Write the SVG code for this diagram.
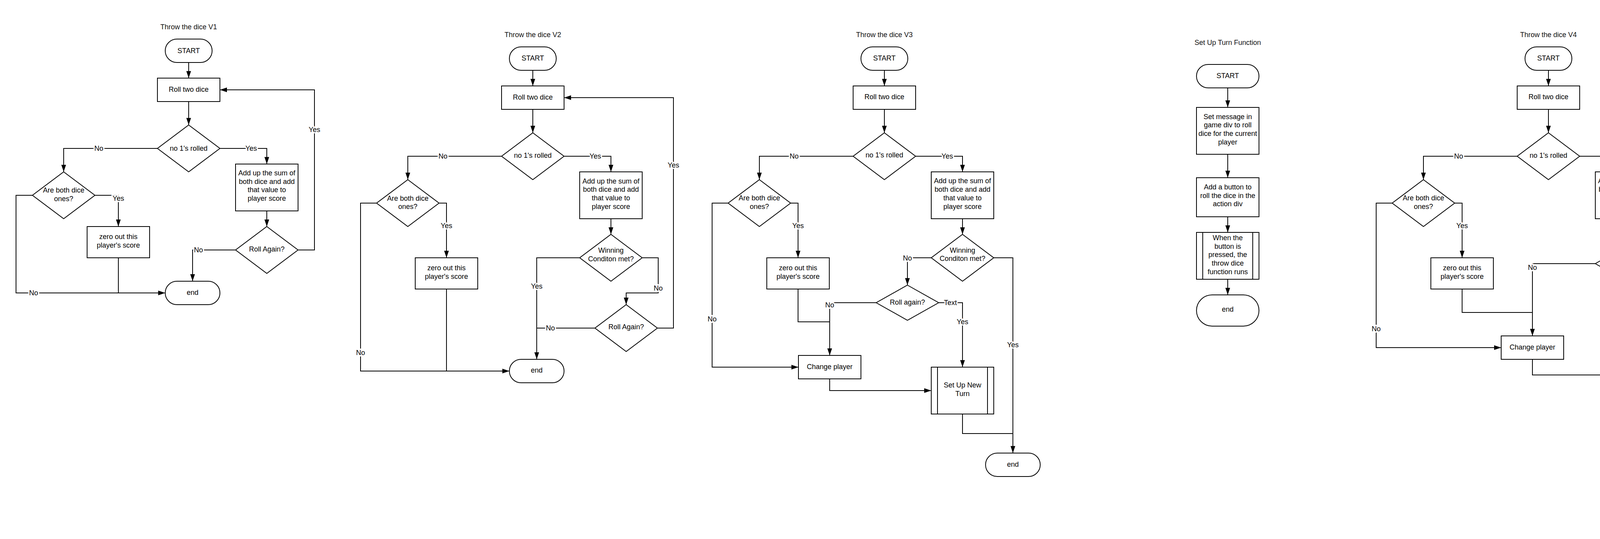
<svg xmlns="http://www.w3.org/2000/svg" width="5703" height="1380" viewBox="0 0 5703 1380">
<defs>
<marker id="ah" markerUnits="userSpaceOnUse" markerWidth="18" markerHeight="12" refX="18" refY="6" orient="auto"><path d="M0,0 L18,6 L0,12 z" fill="#000"/></marker>
<style>
.s{fill:#fff;stroke:#000;stroke-width:2}
.i{fill:none;stroke:#000;stroke-width:2}
.c{fill:none;stroke:#000;stroke-width:2}
.a{marker-end:url(#ah)}
text{font-family:"Liberation Sans",Arial,sans-serif;font-size:18px;fill:#000;text-anchor:middle}
.lbl{paint-order:stroke;stroke:#fff;stroke-width:7px;stroke-linejoin:round}
.ttl{fill:#111}
</style>
</defs>
<rect width="5703" height="1380" fill="#fff"/>

<g id="titles">
<text class="ttl" x="483" y="75">Throw the dice V1</text>
<text class="ttl" x="1364" y="95">Throw the dice V2</text>
<text class="ttl" x="2264" y="95">Throw the dice V3</text>
<text class="ttl" x="3143" y="115">Set Up Turn Function</text>
<text class="ttl" x="3964" y="95">Throw the dice V4</text>
<text class="ttl" x="4693" y="95">Winning Condition Function</text>
<text class="ttl" x="5543" y="95">On page load</text>
</g>

<g id="connectors">
<!-- chart 1 -->
<path class="c a" d="M483,160 V200"/>
<path class="c a" d="M483,260 V320"/>
<path class="c a" d="M403,380 H163 V440"/>
<path class="c a" d="M563,380 H683 V420"/>
<path class="c a" d="M243,500 H303 V580"/>
<path class="c a" d="M83,500 H41 V750 H423"/>
<path class="c" d="M303,660 V750"/>
<path class="c a" d="M683,540 V580"/>
<path class="c a" d="M603,640 H493 V720"/>
<path class="c a" d="M763,640 H805 V230 H563"/>
<text class="lbl" x="253" y="386">No</text>
<text class="lbl" x="643" y="386">Yes</text>
<text class="lbl" x="303" y="514">Yes</text>
<text class="lbl" x="86" y="756">No</text>
<text class="lbl" x="508" y="646">No</text>
<text class="lbl" x="805" y="338">Yes</text>
<!-- chart 2 -->
<path class="c a" d="M1364,180 V220"/>
<path class="c a" d="M1364,280 V340"/>
<path class="c a" d="M1284,400 H1044 V460"/>
<path class="c a" d="M1444,400 H1564 V440"/>
<path class="c a" d="M1124,520 H1143 V660"/>
<path class="c a" d="M964,520 H923 V950 H1304"/>
<path class="c" d="M1143,740 V950"/>
<path class="c a" d="M1564,560 V600"/>
<path class="c a" d="M1484,660 H1374 V920"/>
<path class="c a" d="M1644,660 H1685 V750 H1603 V780"/>
<path class="c" d="M1523,840 H1374"/>
<path class="c a" d="M1683,840 H1724 V250 H1444"/>
<text class="lbl" x="1134" y="406">No</text>
<text class="lbl" x="1524" y="406">Yes</text>
<text class="lbl" x="1143" y="584">Yes</text>
<text class="lbl" x="923" y="909">No</text>
<text class="lbl" x="1374" y="739">Yes</text>
<text class="lbl" x="1685" y="744">No</text>
<text class="lbl" x="1409" y="846">No</text>
<text class="lbl" x="1724" y="429">Yes</text>
<!-- chart 3 -->
<path class="c a" d="M2264,180 V220"/>
<path class="c a" d="M2264,280 V340"/>
<path class="c a" d="M2184,400 H1944 V460"/>
<path class="c a" d="M2344,400 H2464 V440"/>
<path class="c a" d="M2024,520 H2043 V660"/>
<path class="c a" d="M1864,520 H1823 V940 H2044"/>
<path class="c" d="M2043,740 V824 H2124"/>
<path class="c a" d="M2464,560 V600"/>
<path class="c a" d="M2384,660 H2323 V730"/>
<path class="c a" d="M2544,660 H2593 V1160"/>
<path class="c a" d="M2243,775 H2124 V910"/>
<path class="c a" d="M2403,775 H2464 V940"/>
<path class="c a" d="M2124,970 V1000 H2384"/>
<path class="c" d="M2464,1060 V1110 H2593"/>
<text class="lbl" x="2033" y="406">No</text>
<text class="lbl" x="2425" y="406">Yes</text>
<text class="lbl" x="2043" y="584">Yes</text>
<text class="lbl" x="1823" y="823">No</text>
<text class="lbl" x="2124" y="787">No</text>
<text class="lbl" x="2323" y="667">No</text>
<text class="lbl" x="2593" y="889">Yes</text>
<text class="lbl" x="2433" y="781">Text</text>
<text class="lbl" x="2464" y="830">Yes</text>
<!-- chart 4 -->
<path class="c a" d="M3143,225 V275"/>
<path class="c a" d="M3143,395 V455"/>
<path class="c a" d="M3143,555 V595"/>
<path class="c a" d="M3143,715 V755"/>
<!-- chart 5 -->
<path class="c a" d="M3964,180 V220"/>
<path class="c a" d="M3964,280 V340"/>
<path class="c a" d="M3884,400 H3644 V460"/>
<path class="c a" d="M4044,400 H4164 V440"/>
<path class="c a" d="M3724,520 H3743 V660"/>
<path class="c a" d="M3564,520 H3523 V890 H3843"/>
<path class="c" d="M3743,740 V800 H3923"/>
<path class="c a" d="M4164,560 V630"/>
<path class="c a" d="M4084,675 H3923 V860"/>
<path class="c a" d="M4244,675 H4264 V900"/>
<path class="c a" d="M3923,920 V960 H4184"/>
<path class="c a" d="M4264,1020 V1090"/>
<path class="c a" d="M4264,1210 V1280"/>
<text class="lbl" x="3734" y="406">No</text>
<text class="lbl" x="4125" y="406">Yes</text>
<text class="lbl" x="3743" y="584">Yes</text>
<text class="lbl" x="3523" y="848">No</text>
<text class="lbl" x="3923" y="691">No</text>
<text class="lbl" x="4264" y="781">Yes</text>
<!-- chart 6 -->
<path class="c a" d="M4693,180 V240"/>
<path class="c a" d="M4588,320 H4503 V420"/>
<path class="c a" d="M4798,320 H4963 V400"/>
<path class="c a" d="M4963,520 V580"/>
<path class="c a" d="M4963,700 V760"/>
<path class="c a" d="M4963,880 V990 H4583"/>
<path class="c a" d="M4503,540 V960"/>
<text class="lbl" x="4503" y="331">No</text>
<text class="lbl" x="4920" y="326">Yes</text>
<!-- chart 7 -->
<path class="c a" d="M5553,180 V240"/>
<path class="c a" d="M5553,360 V430"/>
<path class="c a" d="M5553,530 V600"/>
<path class="c a" d="M5558,740 V800"/>
<path class="c a" d="M5558,920 V980"/>
<path class="c a" d="M5558,1100 V1160"/>
</g>

<!-- chart 1 nodes -->
<g id="c1-start"><rect class="s" x="423" y="100" width="120" height="60" rx="30"/><text x="483" y="136">START</text></g>
<g id="c1-roll"><rect class="s" x="403" y="200" width="160" height="60"/><text x="483" y="235">Roll two dice</text></g>
<g id="c1-no1"><polygon class="s" points="483,320 563,380 483,440 403,380"/><text x="483" y="386">no 1's rolled</text></g>
<g id="c1-both"><polygon class="s" points="163,440 243,500 163,560 83,500"/><text x="163" y="493">Are both dice</text><text x="163" y="515">ones?</text></g>
<g id="c1-zero"><rect class="s" x="223" y="580" width="160" height="80"/><text x="303" y="612">zero out this</text><text x="303" y="634">player's score</text></g>
<g id="c1-add"><rect class="s" x="603" y="420" width="160" height="120"/><text x="683" y="449">Add up the sum of</text><text x="683" y="471">both dice and add</text><text x="683" y="492">that value to</text><text x="683" y="514">player score</text></g>
<g id="c1-again"><polygon class="s" points="683,580 763,640 683,700 603,640"/><text x="683" y="644">Roll Again?</text></g>
<g id="c1-end"><rect class="s" x="423" y="720" width="140" height="60" rx="30"/><text x="493" y="755">end</text></g>

<!-- chart 2 nodes -->
<g id="c2-start"><rect class="s" x="1304" y="120" width="120" height="60" rx="30"/><text x="1364" y="155">START</text></g>
<g id="c2-roll"><rect class="s" x="1284" y="220" width="160" height="60"/><text x="1364" y="255">Roll two dice</text></g>
<g id="c2-no1"><polygon class="s" points="1364,340 1444,400 1364,460 1284,400"/><text x="1364" y="404">no 1's rolled</text></g>
<g id="c2-both"><polygon class="s" points="1044,460 1124,520 1044,580 964,520"/><text x="1044" y="514">Are both dice</text><text x="1044" y="535">ones?</text></g>
<g id="c2-zero"><rect class="s" x="1063" y="660" width="160" height="80"/><text x="1143" y="692">zero out this</text><text x="1143" y="714">player's score</text></g>
<g id="c2-add"><rect class="s" x="1484" y="440" width="160" height="120"/><text x="1564" y="470">Add up the sum of</text><text x="1564" y="491">both dice and add</text><text x="1564" y="513">that value to</text><text x="1564" y="535">player score</text></g>
<g id="c2-win"><polygon class="s" points="1564,600 1644,660 1564,720 1484,660"/><text x="1564" y="647">Winning</text><text x="1564" y="669">Conditon met?</text></g>
<g id="c2-again"><polygon class="s" points="1603,780 1683,840 1603,900 1523,840"/><text x="1603" y="843">Roll Again?</text></g>
<g id="c2-end"><rect class="s" x="1304" y="920" width="140" height="60" rx="30"/><text x="1374" y="954">end</text></g>

<!-- chart 3 nodes -->
<g id="c3-start"><rect class="s" x="2204" y="120" width="120" height="60" rx="30"/><text x="2264" y="155">START</text></g>
<g id="c3-roll"><rect class="s" x="2184" y="220" width="160" height="60"/><text x="2264" y="254">Roll two dice</text></g>
<g id="c3-no1"><polygon class="s" points="2264,340 2344,400 2264,460 2184,400"/><text x="2264" y="403">no 1's rolled</text></g>
<g id="c3-both"><polygon class="s" points="1944,460 2024,520 1944,580 1864,520"/><text x="1944" y="513">Are both dice</text><text x="1944" y="535">ones?</text></g>
<g id="c3-zero"><rect class="s" x="1963" y="660" width="160" height="80"/><text x="2043" y="692">zero out this</text><text x="2043" y="714">player's score</text></g>
<g id="c3-add"><rect class="s" x="2384" y="440" width="160" height="120"/><text x="2464" y="469">Add up the sum of</text><text x="2464" y="491">both dice and add</text><text x="2464" y="513">that value to</text><text x="2464" y="535">player score</text></g>
<g id="c3-win"><polygon class="s" points="2464,600 2544,660 2464,720 2384,660"/><text x="2464" y="647">Winning</text><text x="2464" y="668">Conditon met?</text></g>
<g id="c3-again"><polygon class="s" points="2323,730 2403,775 2323,820 2243,775"/><text x="2323" y="780">Roll again?</text></g>
<g id="c3-change"><rect class="s" x="2044" y="910" width="160" height="60"/><text x="2124" y="945">Change player</text></g>
<g id="c3-setup"><rect class="s" x="2384" y="940" width="160" height="120"/><path class="i" d="M2400,940 V1060 M2528,940 V1060"/><text x="2464" y="992">Set Up New</text><text x="2464" y="1014">Turn</text></g>
<g id="c3-end"><rect class="s" x="2523" y="1160" width="140" height="60" rx="30"/><text x="2593" y="1195">end</text></g>

<!-- chart 4 nodes -->
<g id="c4-start"><rect class="s" x="3063" y="165" width="160" height="60" rx="30"/><text x="3143" y="200">START</text></g>
<g id="c4-msg"><rect class="s" x="3063" y="275" width="160" height="120"/><text x="3143" y="305">Set message in</text><text x="3143" y="326">game div to roll</text><text x="3143" y="348">dice for the current</text><text x="3143" y="370">player</text></g>
<g id="c4-btn"><rect class="s" x="3063" y="455" width="160" height="100"/><text x="3143" y="485">Add a button to</text><text x="3143" y="507">roll the dice in the</text><text x="3143" y="528">action div</text></g>
<g id="c4-when"><rect class="s" x="3063" y="595" width="160" height="120"/><path class="i" d="M3079,595 V715 M3207,595 V715"/><text x="3143" y="615">When the</text><text x="3143" y="637">button is</text><text x="3143" y="658">pressed, the</text><text x="3143" y="680">throw dice</text><text x="3143" y="702">function runs</text></g>
<g id="c4-end"><rect class="s" x="3063" y="755" width="160" height="80" rx="40"/><text x="3143" y="798">end</text></g>

<!-- chart 5 nodes -->
<g id="c5-start"><rect class="s" x="3904" y="120" width="120" height="60" rx="30"/><text x="3964" y="155">START</text></g>
<g id="c5-roll"><rect class="s" x="3884" y="220" width="160" height="60"/><text x="3964" y="254">Roll two dice</text></g>
<g id="c5-no1"><polygon class="s" points="3964,340 4044,400 3964,460 3884,400"/><text x="3964" y="404">no 1's rolled</text></g>
<g id="c5-both"><polygon class="s" points="3644,460 3724,520 3644,580 3564,520"/><text x="3644" y="513">Are both dice</text><text x="3644" y="535">ones?</text></g>
<g id="c5-zero"><rect class="s" x="3663" y="660" width="160" height="80"/><text x="3743" y="692">zero out this</text><text x="3743" y="714">player's score</text></g>
<g id="c5-add"><rect class="s" x="4084" y="440" width="160" height="120"/><text x="4164" y="469">Add up the sum of</text><text x="4164" y="491">both dice and add</text><text x="4164" y="512">that value to</text><text x="4164" y="534">player score</text></g>
<g id="c5-again"><polygon class="s" points="4164,630 4244,675 4164,720 4084,675"/><text x="4164" y="679">Roll again?</text></g>
<g id="c5-change"><rect class="s" x="3843" y="860" width="160" height="60"/><text x="3923" y="895">Change player</text></g>
<g id="c5-setup"><rect class="s" x="4184" y="900" width="160" height="120"/><path class="i" d="M4200,900 V1020 M4328,900 V1020"/><text x="4264" y="952">Set Up New</text><text x="4264" y="974">Turn</text></g>
<g id="c5-win"><rect class="s" x="4184" y="1090" width="160" height="120"/><path class="i" d="M4200,1090 V1210 M4328,1090 V1210"/><text x="4264" y="1131">Winning</text><text x="4264" y="1153">Condition</text><text x="4264" y="1175">Function</text></g>
<g id="c5-end"><rect class="s" x="4194" y="1280" width="140" height="60" rx="30"/><text x="4264" y="1315">end</text></g>

<!-- chart 6 nodes -->
<g id="c6-start"><rect class="s" x="4623" y="120" width="140" height="60" rx="30"/><text x="4693" y="155">START</text></g>
<g id="c6-dec"><polygon class="s" points="4693,240 4798,320 4693,400 4588,320"/><text x="4693" y="302">Is player's</text><text x="4693" y="323">score greater than</text><text x="4693" y="344">game end?</text></g>
<g id="c6-cur"><rect class="s" x="4423" y="420" width="160" height="120"/><text x="4503" y="463">Set the score area</text><text x="4503" y="485">with the current</text><text x="4503" y="506">score</text></g>
<g id="c6-win"><rect class="s" x="4883" y="400" width="160" height="120"/><text x="4963" y="443">Set the score area</text><text x="4963" y="465">message with a</text><text x="4963" y="487">win for that player</text></g>
<g id="c6-empty"><rect class="s" x="4883" y="580" width="160" height="120"/><text x="4963" y="633">Empty out the</text><text x="4963" y="655">action area</text></g>
<g id="c6-btn"><rect class="s" x="4883" y="760" width="160" height="120"/><text x="4963" y="803">Add a button for</text><text x="4963" y="825">starting a new</text><text x="4963" y="846">game</text></g>
<g id="c6-end"><rect class="s" x="4423" y="960" width="160" height="60" rx="30"/><text x="4503" y="994">End</text></g>

<!-- chart 7 nodes -->
<g id="c7-start"><rect class="s" x="5483" y="120" width="140" height="60" rx="30"/><text x="5553" y="155">START</text></g>
<g id="c7-press"><polygon class="s" points="5473,240 5633,240 5601,360 5505,360"/><text x="5553" y="283">When the start</text><text x="5553" y="305">game button is</text><text x="5553" y="327">pressed</text></g>
<g id="c7-random"><rect class="s" x="5473" y="430" width="160" height="100"/><text x="5553" y="472">Randomly choose</text><text x="5553" y="494">a player</text></g>
<g id="c7-control"><rect class="s" x="5463" y="600" width="190" height="140"/><text x="5558" y="640">Set the game control</text><text x="5558" y="662">message and add a</text><text x="5558" y="683">button that allows the</text><text x="5558" y="704">user to quit</text></g>
<g id="c7-handler"><rect class="s" x="5463" y="800" width="190" height="120"/><text x="5558" y="844">Add an event handler</text><text x="5558" y="865">on the quit button that</text><text x="5558" y="887">refreshes the page</text></g>
<g id="c7-run"><rect class="s" x="5463" y="980" width="190" height="120"/><path class="i" d="M5482,980 V1100 M5634,980 V1100"/><text x="5558" y="1034">Run the Turn</text><text x="5558" y="1056">Set Up function</text></g>
<g id="c7-end"><rect class="s" x="5483" y="1160" width="160" height="60" rx="30"/><text x="5563" y="1193">End</text></g>
</svg>
